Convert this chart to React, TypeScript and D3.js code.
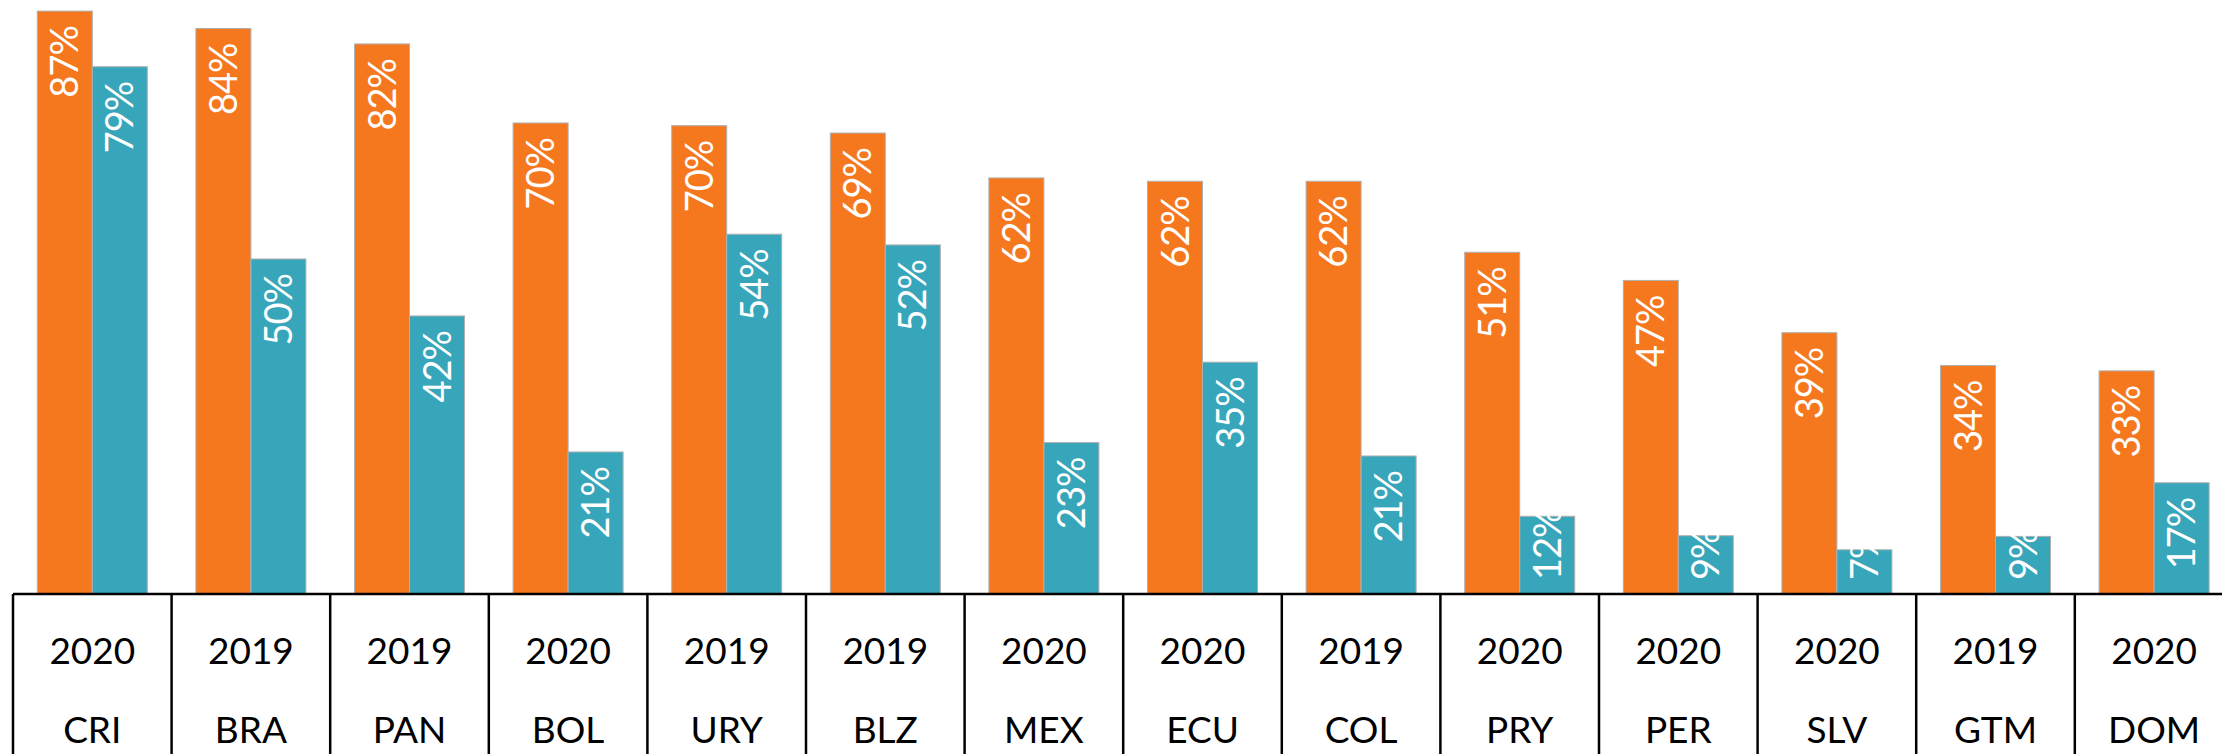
import React from "react";
import * as d3 from "d3";

const countries = ["CRI", "BRA", "PAN", "BOL", "URY", "BLZ", "MEX", "ECU", "COL", "PRY", "PER", "SLV", "GTM", "DOM"];
const years = ["2020", "2019", "2019", "2020", "2019", "2019", "2020", "2020", "2019", "2020", "2020", "2020", "2019", "2020"];
const seriesA = [87.0, 84.4, 82.1, 70.3, 69.9, 68.8, 62.1, 61.6, 61.6, 51.0, 46.8, 39.0, 34.1, 33.3];
const seriesB = [78.7, 50.0, 41.5, 21.2, 53.7, 52.1, 22.6, 34.6, 20.6, 11.6, 8.7, 6.6, 8.6, 16.6];
const seriesKeys = ["a", "b"];
const colors = ["#F5781F", "#37A6BA"];

const W = 2222;
const H = 754;
const baseY = 594;
const left = 13;
const step = 158.6;

export default function App() {
  const x = d3.scaleBand<string>().domain(countries).range([left, left + step * countries.length]).padding(0);
  const inner = d3.scaleBand<string>().domain(seriesKeys).range([24.3, 134.3]).padding(0);
  const y = d3.scaleLinear().domain([0, 100]).range([baseY, baseY - 670]);
  const fontLabel = 38;
  const textLen = (s: string) => s.length * 21 + 8;

  const bars: JSX.Element[] = [];
  const labels: JSX.Element[] = [];
  countries.forEach((c, i) => {
    [seriesA[i], seriesB[i]].forEach((v, k) => {
      const bx = (x(c) as number) + (inner(seriesKeys[k]) as number);
      const bw = inner.bandwidth();
      const top = y(v);
      bars.push(
        <rect key={`b${i}-${k}`} x={bx} y={top} width={bw} height={baseY - top}
          fill={colors[k]} stroke="#b0b0b0" strokeWidth={1} />
      );
      const txt = `${Math.round(v)}%`;
      const h = baseY - top;
      const cx = bx + bw / 2 + 13.5;
      const inside = h >= textLen(txt) + 30;
      const ty = inside ? top + 15 : baseY - 14;
      labels.push(
        <text key={`l${i}-${k}`} transform={`translate(${cx},${ty}) rotate(-90)`}
          textAnchor={inside ? "end" : "start"} fill="#ffffff" letterSpacing={-1}
          fontFamily="Lato, 'Open Sans', sans-serif" fontWeight={400} fontSize={fontLabel}>{txt}</text>
      );
    });
  });

  return (
    <svg width={W} height={H} style={{ position: "absolute", left: 0, top: 0, background: "#fff" }}>
      <rect x={0} y={0} width={W} height={H} fill="#ffffff" />
      {bars}
      {labels}
      <line x1={left} x2={W} y1={baseY} y2={baseY} stroke="#000" strokeWidth={2.5} />
      {countries.map((c, i) => (
        <line key={`v${i}`} x1={(x(c) as number)} x2={(x(c) as number)} y1={baseY} y2={H} stroke="#000" strokeWidth={2.5} />
      ))}
      {countries.map((c, i) => {
        const cx = (x(c) as number) + x.bandwidth() / 2;
        return (
          <g key={`t${i}`} fontFamily="Lato, 'Open Sans', sans-serif" fontSize={37} fill="#000" textAnchor="middle">
            <text x={cx} y={664}>{years[i]}</text>
            <text x={cx} y={743}>{c}</text>
          </g>
        );
      })}
    </svg>
  );
}
